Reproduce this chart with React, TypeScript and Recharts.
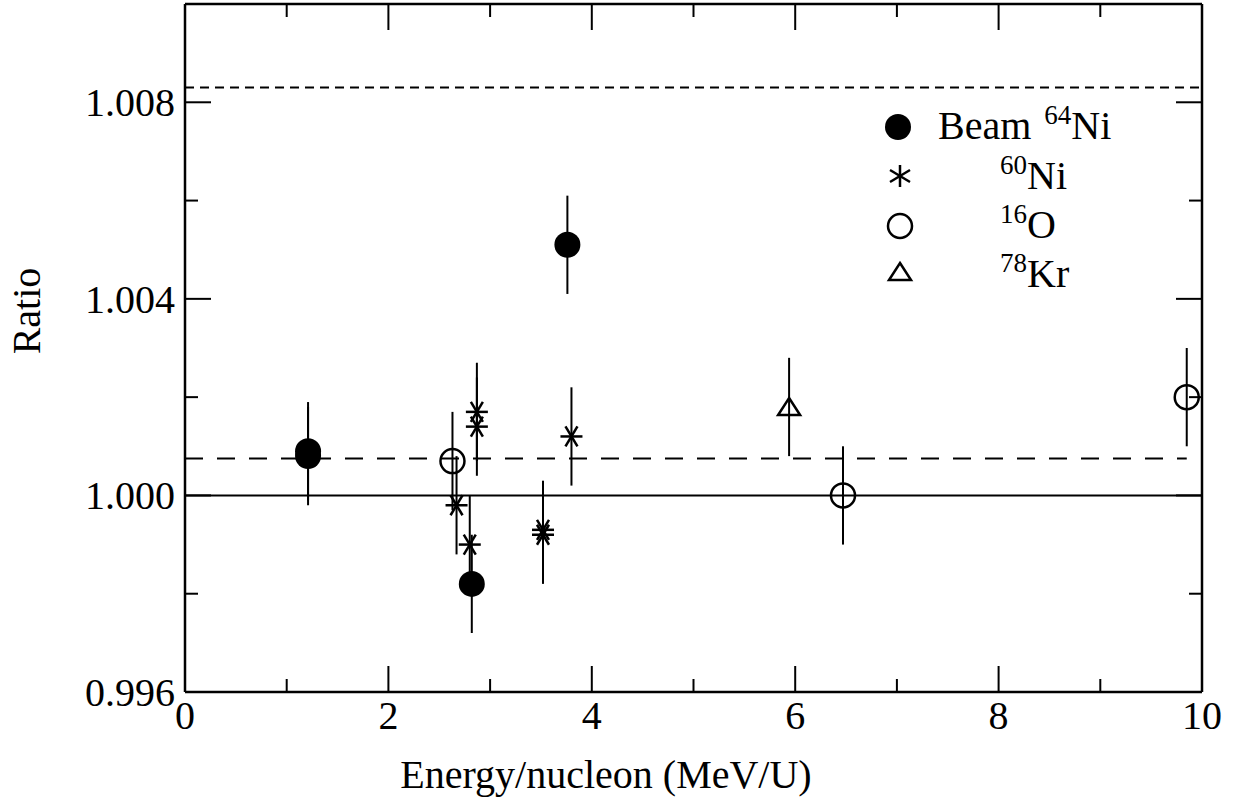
import React from 'react';
import { ComposedChart, Scatter, XAxis, YAxis, ErrorBar, ReferenceLine, Legend } from 'recharts';

// ---- data ----
const beamX = [1.21, 1.21, 2.82, 3.76];
const beamY = [1.0009, 1.0008, 0.9982, 1.0051];
const beamErr = [0.001, 0.001, 0.001, 0.001];

const ni60X = [2.67, 2.8, 2.87, 2.87, 3.52, 3.52, 3.8];
const ni60Y = [0.9998, 0.999, 1.0017, 1.0014, 0.9993, 0.9992, 1.0012];
const ni60Err = [0.001, 0.001, 0.001, 0.001, 0.001, 0.001, 0.001];

const o16X = [2.63, 6.47, 9.85];
const o16Y = [1.0007, 1.0, 1.002];
const o16Err = [0.001, 0.001, 0.001];

const kr78X = [5.94];
const kr78Y = [1.0018];
const kr78Err = [0.001];

const xDomain = [0, 10];
const yDomain = [0.996, 1.01];
const xTicks = [0, 1, 2, 3, 4, 5, 6, 7, 8, 9, 10];
const xLabelTicks = [0, 2, 4, 6, 8, 10];
const yTicks = [0.996, 0.998, 1.0, 1.002, 1.004, 1.006, 1.008];
const yLabelTicks = ['0.996', '1.000', '1.004', '1.008'];

const unityLine = 1.0;
const meanLine = 1.00075;
const meanLineStart = 0;
const meanLineEnd = 9.85;
const upperLine = 1.0083;

const build = (xs: number[], ys: number[], es: number[]) =>
  xs.map((x, i) => ({ x, y: ys[i], err: es[i] }));

const beamData = build(beamX, beamY, beamErr);
const ni60Data = build(ni60X, ni60Y, ni60Err);
const o16Data = build(o16X, o16Y, o16Err);
const kr78Data = build(kr78X, kr78Y, kr78Err);

const FONT = 'Liberation Serif';
const TS: React.CSSProperties = { fontFamily: 'Liberation Serif' };
const SW = 2.5;

// ---- marker shapes ----
const FilledCircle = (p: any) => <circle cx={p.cx} cy={p.cy} r={13} fill="#000" />;
const OpenCircle = (p: any) => (
  <circle cx={p.cx} cy={p.cy} r={12} fill="none" stroke="#000" strokeWidth={SW} />
);
const Star = (p: any) => {
  const { cx, cy } = p;
  return (
    <g stroke="#000" strokeWidth={SW}>
      <line x1={cx - 11} y1={cy} x2={cx + 11} y2={cy} />
      <line x1={cx - 6} y1={cy - 10} x2={cx + 6} y2={cy + 10} />
      <line x1={cx - 6} y1={cy + 10} x2={cx + 6} y2={cy - 10} />
    </g>
  );
};
const LegendStar = ({ cx, cy }: any) => (
  <g stroke="#000" strokeWidth={SW}>
    <line x1={cx} y1={cy - 11} x2={cx} y2={cy + 11} />
    <line x1={cx - 10} y1={cy - 6} x2={cx + 10} y2={cy + 6} />
    <line x1={cx - 10} y1={cy + 6} x2={cx + 10} y2={cy - 6} />
  </g>
);
const Triangle = (p: any) => {
  const { cx, cy } = p;
  return (
    <path
      d={`M${cx},${cy - 9} L${cx + 11},${cy + 8} L${cx - 11},${cy + 8} Z`}
      fill="none"
      stroke="#000"
      strokeWidth={SW}
    />
  );
};

// ---- ticks (inward tick marks) ----
const BottomTick = ({ x, y, payload }: any) => {
  const v = payload.value;
  const major = xLabelTicks.includes(v);
  return (
    <g>
      <line x1={x} x2={x} y1={y} y2={y - (major ? 26 : 13)} stroke="#000" strokeWidth={2} />
      {major && (
        <text x={x} y={y + 37} textAnchor="middle" fontSize={40} fontFamily={FONT} style={TS} fill="#000">
          {v}
        </text>
      )}
    </g>
  );
};
const TopTick = ({ x, y, payload }: any) => {
  const major = xLabelTicks.includes(payload.value);
  return <line x1={x} x2={x} y1={y} y2={y + (major ? 26 : 13)} stroke="#000" strokeWidth={2} />;
};
const LeftTick = ({ x, y, payload }: any) => {
  const label = Number(payload.value).toFixed(3);
  const major = yLabelTicks.includes(label);
  return (
    <g>
      <line x1={x} x2={x + (major ? 26 : 13)} y1={y} y2={y} stroke="#000" strokeWidth={2} />
      {major && (
        <text x={x - 10} y={y} dy="0.35em" textAnchor="end" fontSize={40} fontFamily={FONT} style={TS} fill="#000">
          {label}
        </text>
      )}
    </g>
  );
};
const RightTick = ({ x, y, payload }: any) => {
  const major = yLabelTicks.includes(Number(payload.value).toFixed(3));
  return <line x1={x} x2={x - (major ? 26 : 13)} y1={y} y2={y} stroke="#000" strokeWidth={2} />;
};

const LegendBox = () => (
  <svg width={240} height={200} style={{ overflow: 'visible' }}>
    <FilledCircle cx={28} cy={27} />
    <text x={68} y={39} fontSize={40} fontFamily={FONT} style={TS} fill="#000">
      <tspan>Beam </tspan>
      <tspan fontSize={27} dx={3} dy={-15}>64</tspan>
      <tspan fontSize={40} dy={15}>Ni</tspan>
    </text>
    <LegendStar cx={30} cy={76} />
    <text x={130} y={89} fontSize={40} fontFamily={FONT} style={TS} fill="#000">
      <tspan fontSize={27} dy={-15}>60</tspan>
      <tspan fontSize={40} dy={15}>Ni</tspan>
    </text>
    <OpenCircle cx={30} cy={126} />
    <text x={130} y={138} fontSize={40} fontFamily={FONT} style={TS} fill="#000">
      <tspan fontSize={27} dy={-15}>16</tspan>
      <tspan fontSize={40} dy={15}>O</tspan>
    </text>
    <Triangle cx={30} cy={172} />
    <text x={130} y={187} fontSize={40} fontFamily={FONT} style={TS} fill="#000">
      <tspan fontSize={27} dy={-15}>78</tspan>
      <tspan fontSize={40} dy={15}>Kr</tspan>
    </text>
  </svg>
);

const axisLine = { stroke: '#000', strokeWidth: SW };

export default function App() {
  return (
    <div
      style={{
        position: 'absolute',
        left: 0,
        top: 0,
        width: 1233,
        height: 803,
        background: '#fff',
        fontFamily: 'Liberation Serif',
      }}
    >
      <ComposedChart width={1233} height={803} margin={{ top: 0, right: 0, bottom: 0, left: 0 }} style={TS}>
        <XAxis
          xAxisId="x"
          type="number"
          dataKey="x"
          domain={xDomain}
          allowDataOverflow
          ticks={xTicks}
          interval={0}
          orientation="bottom"
          height={111}
          tickSize={0}
          tickMargin={0}
          tickLine={false}
          axisLine={axisLine}
          tick={<BottomTick />}
          label={{
            content: () => (
              <text x={606} y={788} textAnchor="middle" fontSize={40} fontFamily={FONT} style={TS} fill="#000">
                Energy/nucleon (MeV/U)
              </text>
            ),
          }}
        />
        <XAxis
          xAxisId="xt"
          type="number"
          dataKey="x"
          domain={xDomain}
          allowDataOverflow
          ticks={xTicks}
          interval={0}
          orientation="top"
          height={4}
          tickSize={0}
          tickMargin={0}
          tickLine={false}
          axisLine={axisLine}
          tick={<TopTick />}
        />
        <YAxis
          yAxisId="y"
          type="number"
          dataKey="y"
          domain={yDomain}
          allowDataOverflow
          ticks={yTicks}
          interval={0}
          orientation="left"
          width={185}
          tickSize={0}
          tickMargin={0}
          tickLine={false}
          axisLine={axisLine}
          tick={<LeftTick />}
          label={{
            content: () => (
              <text
                x={40}
                y={311}
                textAnchor="middle"
                fontSize={40}
                fontFamily={FONT}
                style={TS}
                fill="#000"
                transform="rotate(-90, 40, 311)"
              >
                Ratio
              </text>
            ),
          }}
        />
        <YAxis
          yAxisId="yr"
          type="number"
          dataKey="y"
          domain={yDomain}
          allowDataOverflow
          ticks={yTicks}
          interval={0}
          orientation="right"
          width={31}
          tickSize={0}
          tickMargin={0}
          tickLine={false}
          axisLine={axisLine}
          tick={<RightTick />}
        />

        <ReferenceLine xAxisId="x" yAxisId="y" y={unityLine} stroke="#000" strokeWidth={2} />
        <ReferenceLine
          xAxisId="x"
          yAxisId="y"
          segment={[
            { x: meanLineStart, y: meanLine },
            { x: meanLineEnd, y: meanLine },
          ]}
          stroke="#000"
          strokeWidth={2}
          strokeDasharray="18 14"
        />
        <ReferenceLine xAxisId="x" yAxisId="y" y={upperLine} stroke="#000" strokeWidth={2} strokeDasharray="9 6" />

        <Scatter xAxisId="x" yAxisId="y" data={beamData} shape={FilledCircle} isAnimationActive={false}>
          <ErrorBar dataKey="err" direction="y" width={0} stroke="#000" strokeWidth={2} />
        </Scatter>
        <Scatter xAxisId="x" yAxisId="y" data={ni60Data} shape={Star} isAnimationActive={false}>
          <ErrorBar dataKey="err" direction="y" width={0} stroke="#000" strokeWidth={2} />
        </Scatter>
        <Scatter xAxisId="x" yAxisId="y" data={o16Data} shape={OpenCircle} isAnimationActive={false}>
          <ErrorBar dataKey="err" direction="y" width={0} stroke="#000" strokeWidth={2} />
        </Scatter>
        <Scatter xAxisId="x" yAxisId="y" data={kr78Data} shape={Triangle} isAnimationActive={false}>
          <ErrorBar dataKey="err" direction="y" width={0} stroke="#000" strokeWidth={2} />
        </Scatter>

        <Legend
          layout="vertical"
          align="center"
          verticalAlign="middle"
          wrapperStyle={{ position: 'absolute', left: 870, top: 100, width: 240, height: 200 }}
          content={() => <LegendBox />}
        />
      </ComposedChart>
    </div>
  );
}
